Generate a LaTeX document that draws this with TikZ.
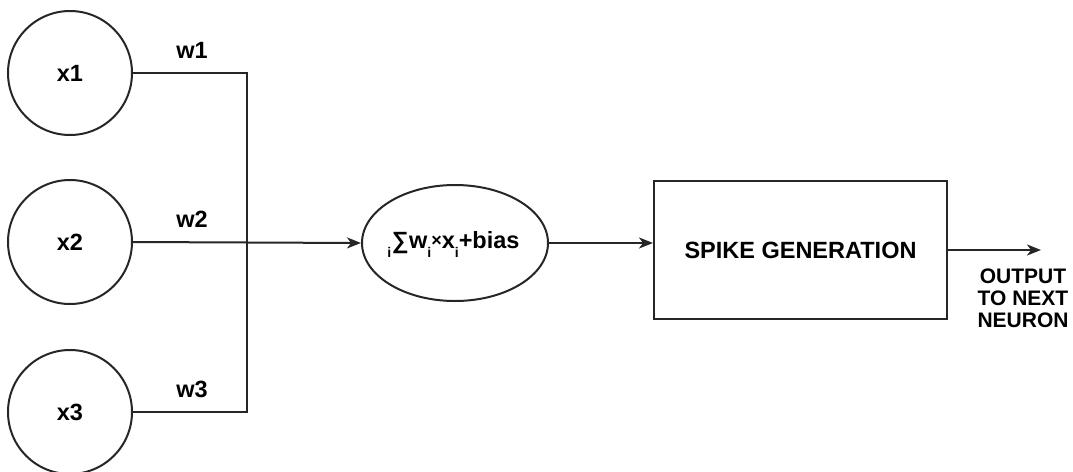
\documentclass[tikz,border=0pt]{standalone}
\usepackage{fontspec}
\setmainfont{Liberation Sans}
\usetikzlibrary{arrows.meta,shapes.geometric}
\tikzset{
  line/.style={draw=black!85, line width=2pt},
  arr/.style={line, -{Stealth[length=14pt,width=11pt,inset=4pt]}},
  neuron/.style={line, circle, minimum size=124pt, inner sep=0pt},
  lbl/.style={font=\fontsize{23.5}{28}\selectfont\bfseries, inner sep=0pt},
  outlbl/.style={font=\fontsize{21}{22}\selectfont\bfseries, align=center, inner sep=0pt},
}
\newcommand{\sbi}{\raisebox{-9pt}{\fontsize{14}{14}\selectfont i}}
\newcommand{\smtimes}{\raisebox{2pt}{\fontsize{18}{18}\selectfont ×}}
\begin{document}
\begin{tikzpicture}[x=1pt,y=-1pt]
\useasboundingbox (0,0) rectangle (1073,471);
\node[neuron] (x1) at (70,73) {};
\node[neuron] (x2) at (70,242) {};
\node[neuron] (x3) at (70,412) {};
\node[lbl] (x1t) at (x1.center) {x1};
\node[lbl] (x2t) at (x2.center) {x2};
\node[lbl] (x3t) at (x3.center) {x3};
\coordinate (j) at (247,242);
\node[line, ellipse, minimum width=186pt, minimum height=116pt, inner sep=0pt] (sum) at (455,243) {};
\node[lbl, anchor=base] (sumt) at (453.5,248) {\sbi\kern0.5pt∑\kern0.5pt w\sbi\smtimes x\sbi+bias};
\node[line, rectangle, minimum width=293pt, minimum height=138pt, inner sep=0pt] (spike) at (800.5,250) {};
\node[lbl] (spiket) at (spike.center) {SPIKE GENERATION};
\coordinate (out) at (1041,250);
\draw[line] (x1.east) -| (j);
\draw[line] (x3.east) -| (j);
\draw[arr] (x2.east) -- (sum.west);
\draw[arr] (sum.east) -- (sum.east -| spike.west);
\draw[arr] (spike.east |- out) -- (out);
\node[lbl, anchor=base] (w1) at (192,58) {w1};
\node[lbl, anchor=base] (w2) at (192,227) {w2};
\node[lbl, anchor=base] (w3) at (192,397) {w3};
\node[outlbl] (outt) at (1023,298) {OUTPUT\\TO NEXT\\NEURON};
\end{tikzpicture}
\end{document}
